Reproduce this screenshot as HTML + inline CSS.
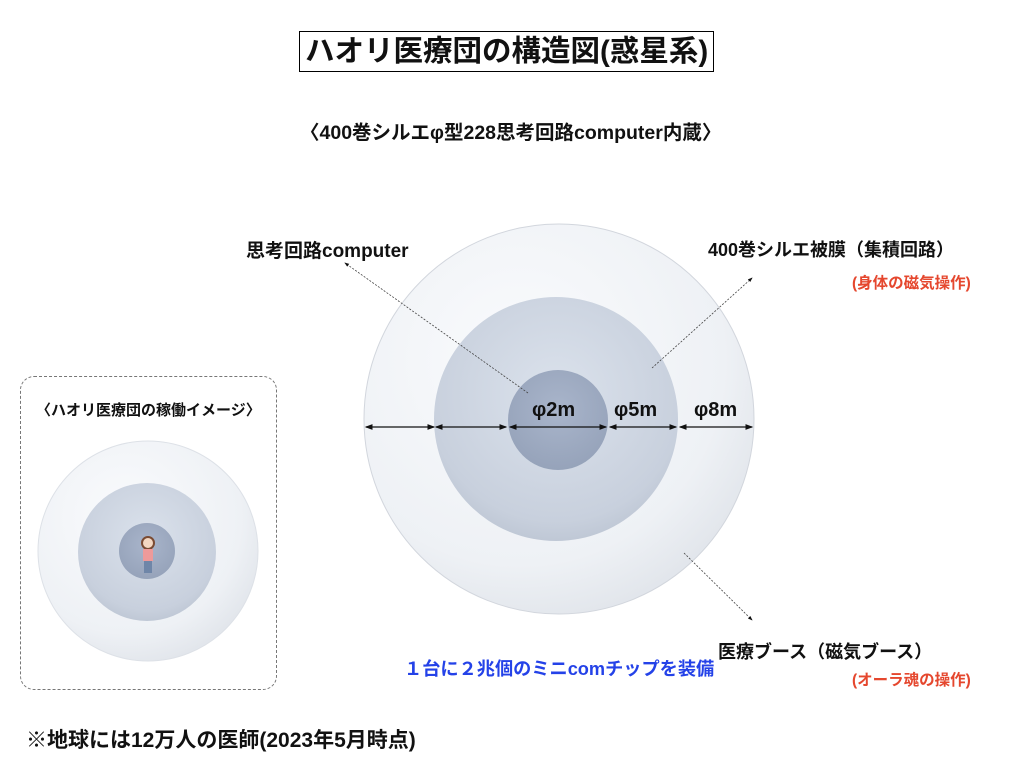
<!DOCTYPE html>
<html><head><meta charset="utf-8"><style>
body{margin:0;width:1024px;height:768px;background:#fff;position:relative;overflow:hidden;font-family:"Liberation Sans","Noto Sans CJK JP",sans-serif;font-weight:bold;color:#111}
.t{position:absolute;white-space:nowrap}
</style></head><body>
<div class="t" style="left:299px;top:31px;border:1.5px solid #000;padding:1px 5px;font-size:29.5px;line-height:37px;">ハオリ医療団の構造図(惑星系)</div>
<div class="t" style="left:300px;top:116px;font-size:19.5px;">〈400巻シルエφ型228思考回路computer内蔵〉</div>
<div class="t" style="left:246px;top:236px;font-size:19px;">思考回路computer</div>
<div class="t" style="left:708px;top:236px;font-size:18px;">400巻シルエ被膜（集積回路）</div>
<div class="t" style="left:852px;top:271px;font-size:15.5px;color:#e5472e;">(身体の磁気操作)</div>
<div class="t" style="left:718px;top:638px;font-size:18px;">医療ブース（磁気ブース）</div>
<div class="t" style="left:852px;top:668px;font-size:15.5px;color:#e5472e;">(オーラ魂の操作)</div>
<div class="t" style="left:404px;top:655px;font-size:18.2px;color:#2442e8;">１台に２兆個のミニcomチップを装備</div>
<div class="t" style="left:26px;top:724px;font-size:21px;">※地球には12万人の医師(2023年5月時点)</div>
<div style="position:absolute;left:20px;top:376px;width:255px;height:312px;border:1px dashed #777;border-radius:14px;"></div>
<div class="t" style="left:36px;top:399px;font-size:15px;">〈ハオリ医療団の稼働イメージ〉</div>
<svg width="1024" height="768" style="position:absolute;left:0;top:0">
<defs>
<radialGradient id="o" cx="0.4" cy="0.35" r="0.7"><stop offset="0" stop-color="#fafbfd"/><stop offset="0.75" stop-color="#eef1f5"/><stop offset="1" stop-color="#e0e4ea"/></radialGradient>
<radialGradient id="m" cx="0.5" cy="0.4" r="0.65"><stop offset="0" stop-color="#dbe2ec"/><stop offset="0.8" stop-color="#c8d0dd"/><stop offset="1" stop-color="#bac3d1"/></radialGradient>
<radialGradient id="i" cx="0.5" cy="0.4" r="0.6"><stop offset="0" stop-color="#a9b5cb"/><stop offset="1" stop-color="#96a3ba"/></radialGradient>
<marker id="a" markerWidth="6" markerHeight="6" refX="5" refY="3" orient="auto"><path d="M0,0.8 L6,3 L0,5.2z" fill="#111"/></marker>
<marker id="b" markerWidth="6" markerHeight="6" refX="1" refY="3" orient="auto"><path d="M6,0.8 L0,3 L6,5.2z" fill="#111"/></marker>
</defs>
<circle cx="559" cy="419" r="195" fill="url(#o)" stroke="#d2d6dd"/>
<circle cx="556" cy="419" r="122" fill="url(#m)"/>
<circle cx="558" cy="420" r="50" fill="url(#i)"/>
<g stroke="#111" stroke-width="1.3" marker-start="url(#b)" marker-end="url(#a)">
<line x1="366" y1="427" x2="434" y2="427"/><line x1="436" y1="427" x2="506" y2="427"/>
<line x1="510" y1="427" x2="606" y2="427"/><line x1="610" y1="427" x2="676" y2="427"/>
<line x1="680" y1="427" x2="752" y2="427"/>
</g>
<g stroke="#444" stroke-width="0.8" stroke-dasharray="2,1.5">
<line x1="528" y1="393" x2="345" y2="263" marker-end="url(#a)"/>
<line x1="652" y1="368" x2="752" y2="278" marker-end="url(#a)"/>
<line x1="684" y1="553" x2="752" y2="620" marker-end="url(#a)"/>
</g>
<g font-size="20" font-weight="bold" font-family="Liberation Sans,sans-serif" fill="#111">
<text x="532" y="416">φ2m</text>
<text x="614" y="416">φ5m</text>
<text x="694" y="416">φ8m</text>
</g>
<circle cx="148" cy="551" r="110" fill="url(#o)" stroke="#dde1e7"/>
<circle cx="147" cy="552" r="69" fill="url(#m)"/>
<circle cx="147" cy="551" r="28" fill="url(#i)"/>
<circle cx="148" cy="543" r="6" fill="#f3d7c2" stroke="#7a4b33" stroke-width="2"/>
<rect x="143" y="549" width="10" height="12" fill="#ee9a9a"/>
<rect x="144" y="561" width="8" height="12" fill="#6f86a8"/>
</svg>
</body></html>
